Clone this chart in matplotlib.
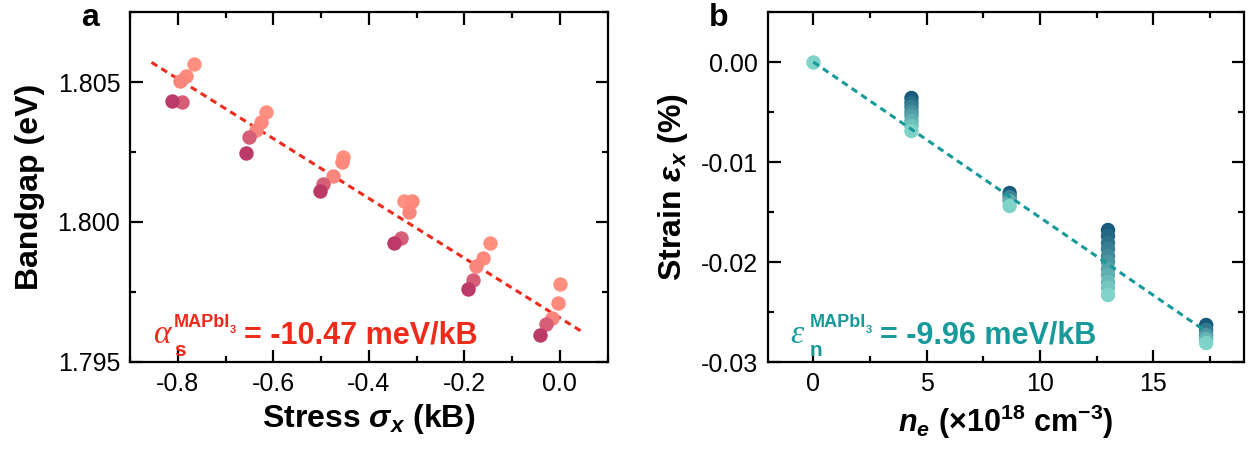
import numpy as np
import matplotlib
matplotlib.use("Agg")
import matplotlib.pyplot as plt
from matplotlib.colors import LinearSegmentedColormap
from matplotlib.ticker import MultipleLocator, FormatStrFormatter
from matplotlib.transforms import offset_copy

plt.rcParams['font.family'] = ['Liberation Sans', 'DejaVu Sans']
plt.rcParams['axes.unicode_minus'] = False
plt.rcParams['mathtext.fontset'] = 'custom'
plt.rcParams['mathtext.rm'] = 'Liberation Sans'
plt.rcParams['mathtext.it'] = 'Liberation Sans:italic'
plt.rcParams['mathtext.bf'] = 'Liberation Sans:bold'
plt.rcParams['mathtext.bfit'] = 'Liberation Sans:italic:bold'

# panel a: stress vs bandgap, 6 stress groups x 5 points (dark -> light)
stress_dark = [-0.811, -0.658, -0.502, -0.347, -0.192, -0.042]
gap_dark = [1.80433, 1.80248, 1.80112, 1.79926, 1.79761, 1.79596]
stress_mid = [-0.791, -0.651, -0.495, -0.333, -0.182, -0.029]
gap_mid = [1.80428, 1.80303, 1.80136, 1.79942, 1.79793, 1.79636]
stress_light1 = [-0.795, -0.637, -0.475, -0.315, -0.175, -0.017]
gap_light1 = [1.80504, 1.80329, 1.80164, 1.80035, 1.79844, 1.79658]
stress_light2 = [-0.782, -0.625, -0.456, -0.309, -0.161, -0.004]
gap_light2 = [1.80521, 1.80358, 1.80215, 1.80076, 1.79870, 1.79710]
stress_light3 = [-0.765, -0.616, -0.453, -0.327, -0.147, 0.000]
gap_light3 = [1.80564, 1.80394, 1.80233, 1.80076, 1.79924, 1.79777]
fit_a_x = [-0.855, 0.045]
fit_a_y = [1.8057, 1.7961]

# panel b: strain columns per electron density (top -> bottom)
ne_values = [0.0, 4.33, 8.66, 13.0, 17.33]
strain_cols = [
    [0.0],
    [-0.0036, -0.0041, -0.0045, -0.0050, -0.0054, -0.0059, -0.0064, -0.0069],
    [-0.0131, -0.0135, -0.0139, -0.0144],
    [-0.0168, -0.0174, -0.0181, -0.0187, -0.0194, -0.0200, -0.0207,
     -0.0213, -0.0220, -0.0226, -0.0233],
    [-0.0263, -0.0268, -0.0273, -0.0277, -0.0281],
]
fit_b_x = [0.0, 17.3]
fit_b_y = [0.0, -0.0269]

red = '#ee2a1a'
teal = '#18999a'

fig = plt.figure(figsize=(12.5, 4.54), dpi=100)
W, H = 1250, 454
ax1 = fig.add_axes([130 / W, 1 - 362 / H, (607.5 - 130) / W, 350 / H])
ax2 = fig.add_axes([768 / W, 1 - 362 / H, (1244 - 768) / W, 350 / H])

ms = 108
ax1.plot(fit_a_x, fit_a_y, color=red, lw=2.2, ls=(0, (2.2, 1.6)), zorder=1)
ax1.scatter(stress_light3, gap_light3, s=ms, color='#ff8f7e', lw=0, zorder=2)
ax1.scatter(stress_light2, gap_light2, s=ms, color='#fd8a7c', lw=0, zorder=2)
ax1.scatter(stress_light1, gap_light1, s=ms, color='#f8867c', lw=0, zorder=2)
ax1.scatter(stress_mid, gap_mid, s=ms, color='#d65e77', lw=0, zorder=3)
ax1.scatter(stress_dark, gap_dark, s=ms, color='#bc3a68', lw=0, zorder=4)

cmap = LinearSegmentedColormap.from_list('tl', ['#185a7b', '#7fd3c8'])
ax2.plot(fit_b_x, fit_b_y, color=teal, lw=2.2, ls=(0, (2.2, 1.6)), zorder=3)
for x, col in zip(ne_values, strain_cols):
    n = len(col)
    cs = [cmap(1.0)] if n == 1 else [cmap(i / (n - 1)) for i in range(n)]
    ax2.scatter([x] * n, col, s=ms, c=cs, lw=0, zorder=2)

ax1.set_xlim(-0.9, 0.1)
ax1.set_ylim(1.795, 1.8075)
ax1.xaxis.set_major_locator(MultipleLocator(0.2))
ax1.xaxis.set_minor_locator(MultipleLocator(0.1))
ax1.yaxis.set_major_locator(MultipleLocator(0.005))
ax1.yaxis.set_minor_locator(MultipleLocator(0.0025))
ax1.xaxis.set_major_formatter(FormatStrFormatter('%.1f'))
ax1.yaxis.set_major_formatter(FormatStrFormatter('%.3f'))

ax2.set_xlim(-2, 19)
ax2.set_ylim(-0.03, 0.005)
ax2.xaxis.set_major_locator(MultipleLocator(5))
ax2.xaxis.set_minor_locator(MultipleLocator(2.5))
ax2.yaxis.set_major_locator(MultipleLocator(0.01))
ax2.yaxis.set_minor_locator(MultipleLocator(0.005))
ax2.yaxis.set_major_formatter(FormatStrFormatter('%.2f'))

for ax in (ax1, ax2):
    for sp in ax.spines.values():
        sp.set_linewidth(1.6)
    ax.tick_params(which='both', direction='in', top=True, right=True,
                   width=1.6, labelsize=18, pad=7)
    ax.tick_params(which='major', length=9)
    ax.tick_params(which='minor', length=4.5)

ax1.set_xlabel(r'Stress $\mathbfit{\sigma}_{\mathbfit{x}}$ (kB)', fontsize=23, fontweight='bold')
ax1.set_ylabel('Bandgap (eV)', fontsize=23, fontweight='bold')
ax2.set_xlabel(r'$\mathbfit{n}_{\mathbfit{e}}$ (×10$^{\mathbf{18}}$ cm$^{\mathbf{-3}}$)',
               fontsize=22, fontweight='bold')
ax2.set_ylabel(r'Strain $\mathbfit{\varepsilon}_{\mathbfit{x}}$ (%)', fontsize=23, fontweight='bold')
ax1.xaxis.set_label_coords(0.5, -0.115)
ax2.xaxis.set_label_coords(0.5, -0.115)
ax1.yaxis.set_label_coords(-0.178, 0.5)
ax2.yaxis.set_label_coords(-0.164, 0.5)


def put(ax, dx, dy, s, **kw):
    tr = offset_copy(ax.transAxes, fig=fig, x=dx, y=dy, units='dots')
    ax.text(0, 0, s, transform=tr, va='baseline', ha='left', **kw)


def coef(ax, sym, sub, x0, value, color):
    put(ax, x0, 19, sym, fontsize=24, style='italic', family='Liberation Serif', color=color)
    put(ax, x0 + 20, 35, 'MAPbI', fontsize=13, fontweight='bold', color=color)
    put(ax, x0 + 76, 29, '3', fontsize=8, fontweight='bold', color=color)
    put(ax, x0 + 20, 6, sub, fontsize=15, fontweight='bold', color=color)
    put(ax, x0 + 90, 18, '= ' + value, fontsize=22, fontweight='bold', color=color)


coef(ax1, 'α', 's', 24, '-10.47 meV/kB', red)
coef(ax2, 'ε', 'n', 22, '-9.96 meV/kB', teal)

fig.text(90 / W, 1 - 18 / H, 'a', fontsize=23, fontweight='bold', ha='center', va='center')
fig.text(719 / W, 1 - 18 / H, 'b', fontsize=23, fontweight='bold', ha='center', va='center')

fig.savefig('out.png', dpi=100)
